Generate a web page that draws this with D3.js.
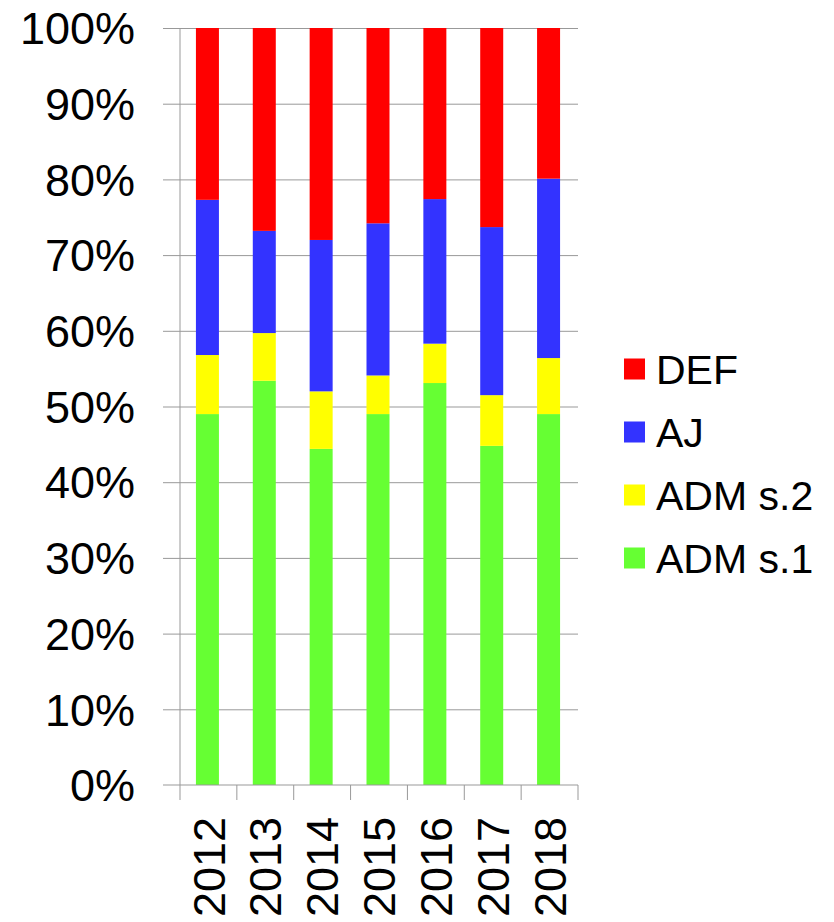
<html>
<head>
	<script src="https://d3js.org/d3.v7.min.js"></script>
	<title>Stacked 100% bars 2012-2018</title>
	<style type="text/css">
		body {
			margin: 0;
			background: #fff;
		}
		#chart text {
			font-family: "Liberation Sans", Arial, sans-serif;
			fill: #000;
		}
	</style>
</head>
<body>

<div id="chart"></div>

<script>

// values (percent of each year)
var years = ["2012", "2013", "2014", "2015", "2016", "2017", "2018"];
var adm1 = [49.0, 53.4, 44.4, 49.0, 53.1, 44.8, 49.0];
var adm2 = [7.8, 6.3, 7.6, 5.1, 5.2, 6.7, 7.4];
var aj   = [20.5, 13.5, 20.0, 20.1, 19.1, 22.2, 23.7];
var def  = [22.7, 26.8, 28.0, 25.8, 22.6, 26.3, 19.9];

var seriesNames = ["ADM s.1", "ADM s.2", "AJ", "DEF"];
var seriesValues = [adm1, adm2, aj, def];
var seriesColors = ["#66ff33", "#ffff00", "#3333ff", "#ff0000"];
var yTicks = [0, 0.1, 0.2, 0.3, 0.4, 0.5, 0.6, 0.7, 0.8, 0.9, 1];

function drawChart() {
	var width = 834, height = 922;
	var left = 180, right = 578, top = 28, bottom = 785;

	var svg = d3.select('#chart')
		.append('svg')
		.attr("width", width)
		.attr("height", height);

	// rows for d3.stack
	var rows = years.map(function(y, i) {
		var r = { year: y };
		seriesNames.forEach(function(name, s) { r[name] = seriesValues[s][i]; });
		return r;
	});

	var stack = d3.stack()
		.keys(seriesNames)
		.offset(d3.stackOffsetExpand);
	var layers = stack(rows);

	var x = d3.scaleBand()
		.domain(years)
		.range([left, right])
		.paddingInner(0)
		.paddingOuter(0);

	var y = d3.scaleLinear()
		.domain([0, 1])
		.range([bottom, top]);

	var color = d3.scaleOrdinal()
		.domain(seriesNames)
		.range(seriesColors);

	// gridlines + left ticks
	svg.append("g")
		.attr("transform", "translate(" + left + ",0)")
		.call(d3.axisLeft(y)
			.tickValues(yTicks.slice(1))
			.tickSize(-(right - left))
			.tickFormat(""))
		.call(function(g) {
			g.select(".domain").remove();
			g.selectAll("line").attr("stroke", "#999").attr("x1", -17);
		});

	// bars
	var barW = 23;
	svg.append("g")
		.selectAll("g")
		.data(layers)
		.enter().append("g")
		.attr("fill", function(d) { return color(d.key); })
		.selectAll("rect")
		.data(function(d) { return d; })
		.enter().append("rect")
		.attr("x", function(d) { return x(d.data.year) + x.bandwidth() / 2 - barW / 2 - 1; })
		.attr("y", function(d) { return y(d[1]); })
		.attr("width", barW)
		.attr("height", function(d) { return y(d[0]) - y(d[1]); });

	// y axis line and labels
	svg.append("line")
		.attr("x1", left).attr("x2", left)
		.attr("y1", top).attr("y2", bottom)
		.attr("stroke", "#999");

	svg.append("g")
		.selectAll("text")
		.data(yTicks)
		.enter().append("text")
		.attr("x", 135)
		.attr("y", function(d) { return y(d); })
		.attr("dy", "0.36em")
		.attr("text-anchor", "end")
		.style("font-size", "45px")
		.text(function(d) { return Math.round(d * 100) + "%"; });

	// x axis
	svg.append("line")
		.attr("x1", 163).attr("x2", right)
		.attr("y1", bottom).attr("y2", bottom)
		.attr("stroke", "#999");

	var bounds = years.map(function(yr) { return x(yr); }).concat([right]);
	svg.append("g")
		.selectAll("line")
		.data(bounds)
		.enter().append("line")
		.attr("x1", function(d) { return d; })
		.attr("x2", function(d) { return d; })
		.attr("y1", bottom)
		.attr("y2", bottom + 15)
		.attr("stroke", "#999");

	svg.append("g")
		.selectAll("text")
		.data(years)
		.enter().append("text")
		.attr("transform", function(d) {
			return "translate(" + (x(d) + x.bandwidth() / 2) + "," + 817 + ") rotate(-90)";
		})
		.attr("dy", "0.36em")
		.attr("text-anchor", "end")
		.style("font-size", "45px")
		.text(function(d) { return d; });

	// legend, top series first
	var legendNames = seriesNames.slice().reverse();
	var legend = svg.append("g")
		.selectAll("g")
		.data(legendNames)
		.enter().append("g")
		.attr("transform", function(d, i) { return "translate(624," + (369 + i * 63) + ")"; });

	legend.append("rect")
		.attr("x", 0)
		.attr("y", -10.5)
		.attr("width", 21)
		.attr("height", 21)
		.attr("fill", function(d) { return color(d); });

	legend.append("text")
		.attr("x", 32)
		.attr("y", 0)
		.attr("dy", "0.36em")
		.style("font-size", "41px")
		.text(function(d) { return d; });
}

drawChart();

</script>
</body>
</html>
